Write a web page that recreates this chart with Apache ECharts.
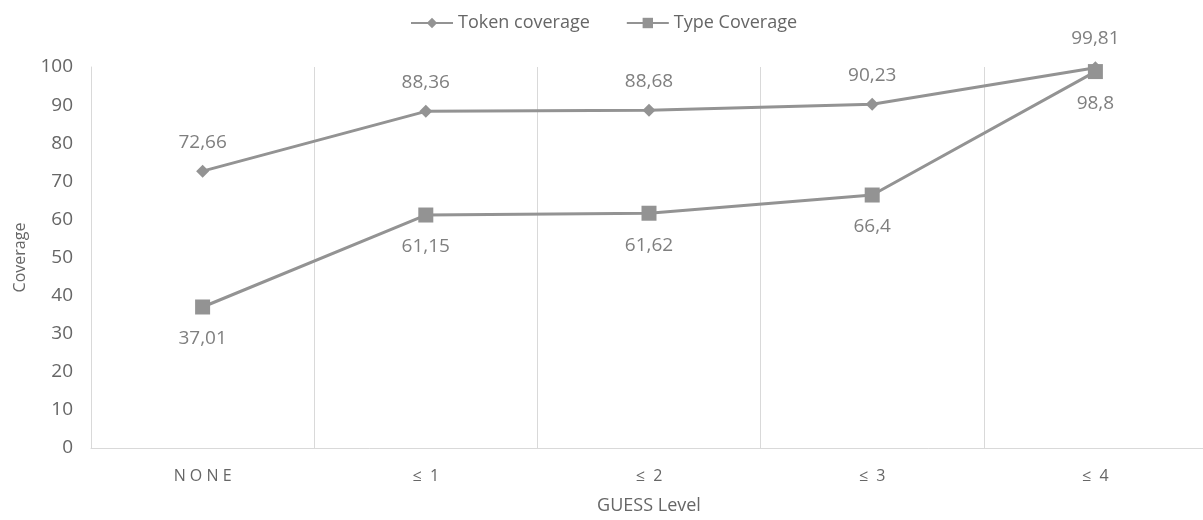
<!DOCTYPE html>
<html><head><meta charset="utf-8">
<script src="https://cdn.jsdelivr.net/npm/echarts@6/dist/echarts.min.js"></script>
<style>html,body{margin:0;padding:0;background:#fff;overflow:hidden}#c{width:1210px;height:520px}</style>
</head><body><div id="c"></div>
<script>
const categories = ['N O N E', '≤  1', '≤  2', '≤  3', '≤  4'];
const tokenCoverage = [72.66, 88.36, 88.68, 90.23, 99.81];
const typeCoverage = [37.01, 61.15, 61.62, 66.4, 98.8];
const yTicks = [0, 10, 20, 30, 40, 50, 60, 70, 80, 90, 100];

const font = 'Open Sans, Noto Sans, sans-serif';
const gray = '#939393';
const textGray = '#7f7f7f';
const fmt = p => String(p.value).replace('.', ',');

const chart = echarts.init(document.getElementById('c'));
chart.setOption({
  animation: false,
  legend: {
    top: 9, left: 405, itemGap: 36, itemWidth: 42, itemHeight: 13,
    textStyle: { color: '#666', fontFamily: font, fontSize: 18 },
    data: ['Token coverage', 'Type Coverage']
  },
  grid: { left: 91, top: 67, bottom: 70, right: 3, containLabel: false },
  xAxis: {
    type: 'category', data: categories, boundaryGap: true,
    name: 'GUESS Level', nameLocation: 'middle', nameGap: 49,
    nameTextStyle: { color: '#666', fontFamily: font, fontSize: 18 },
    axisLine: { lineStyle: { color: '#d9d9d9', width: 1 } },
    axisTick: { show: false },
    axisLabel: { color: '#666', fontFamily: font, fontSize: 16, margin: 20 },
    splitLine: { show: true, lineStyle: { color: '#d9d9d9', width: 1 } }
  },
  yAxis: {
    type: 'value', min: yTicks[0], max: yTicks[yTicks.length - 1], interval: 10,
    name: 'Coverage', nameLocation: 'middle', nameGap: 63, nameRotate: 90,
    nameTextStyle: { color: '#666', fontFamily: font, fontSize: 16 },
    axisLine: { show: true, lineStyle: { color: '#d9d9d9', width: 1 } },
    axisTick: { show: false },
    axisLabel: { color: '#666', fontFamily: font, fontSize: 19, margin: 18 },
    splitLine: { show: false }
  },
  series: [
    {
      name: 'Token coverage', type: 'line', data: tokenCoverage,
      symbol: 'diamond', symbolSize: 13,
      lineStyle: { color: gray, width: 3 },
      itemStyle: { color: gray },
      label: { show: true, position: 'top', distance: 13, formatter: fmt,
        color: textGray, fontFamily: font, fontSize: 19 }
    },
    {
      name: 'Type Coverage', type: 'line', data: typeCoverage,
      symbol: 'rect', symbolSize: 15,
      lineStyle: { color: gray, width: 3 },
      itemStyle: { color: gray },
      label: { show: true, position: 'bottom', distance: 15, formatter: fmt,
        color: textGray, fontFamily: font, fontSize: 19 }
    }
  ]
});
</script></body></html>
